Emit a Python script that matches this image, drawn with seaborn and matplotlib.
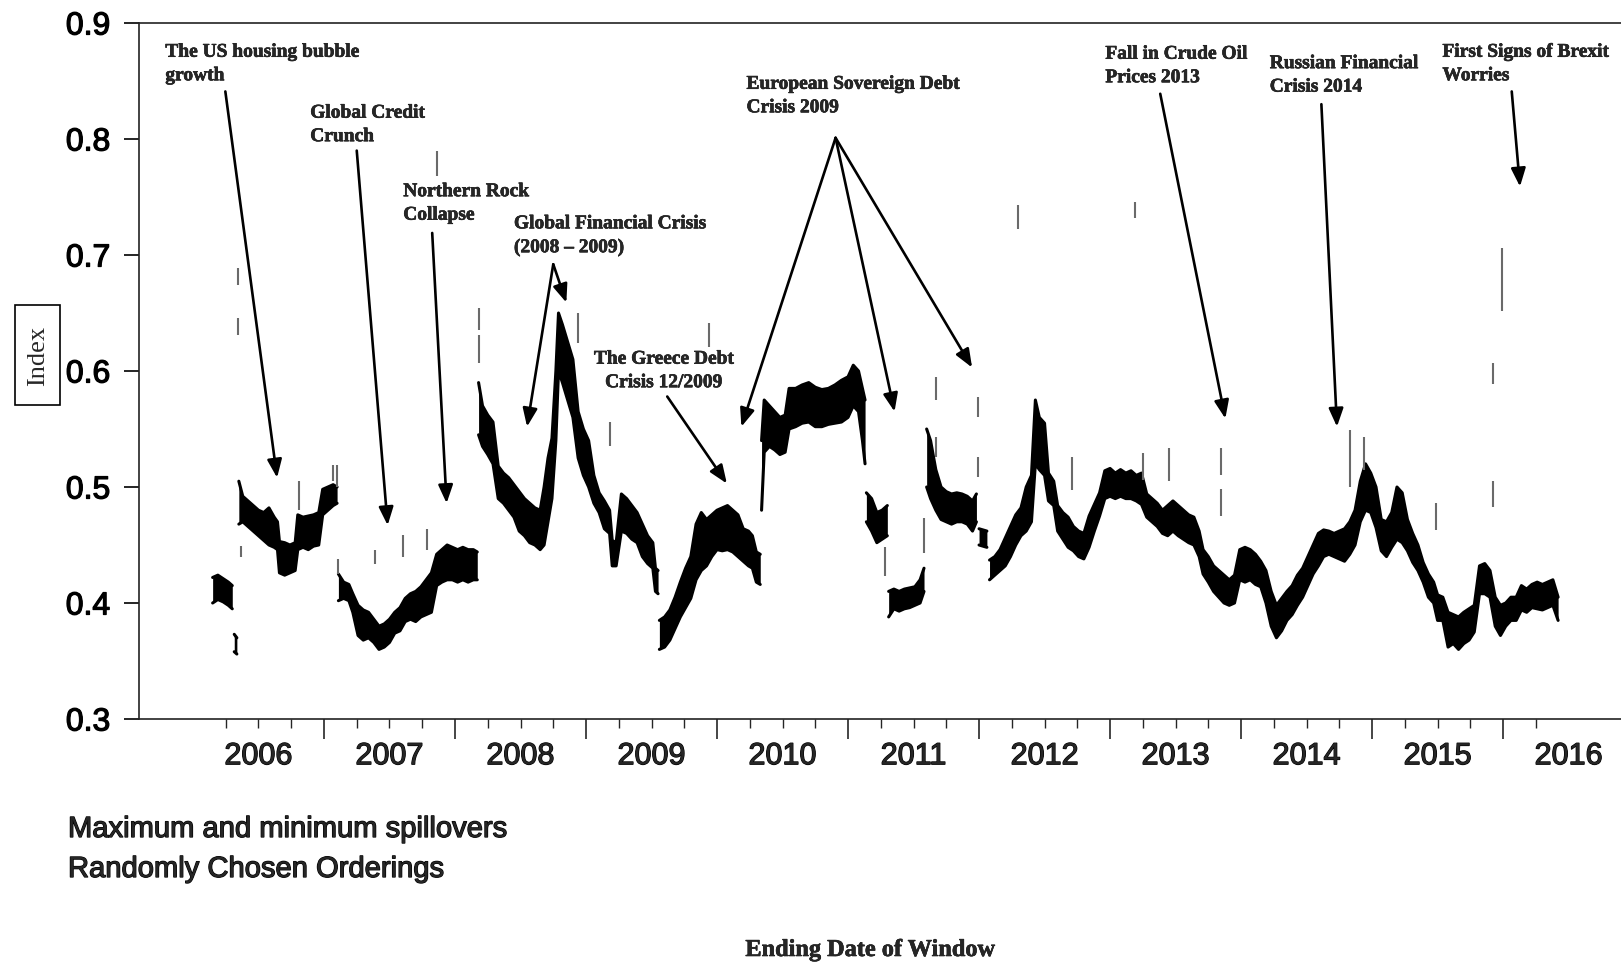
import numpy as np
import pandas as pd
import matplotlib
matplotlib.use("Agg")
import matplotlib.pyplot as plt
import matplotlib.patheffects as pe
import seaborn as sns
from matplotlib.patches import Rectangle
from matplotlib.ticker import FixedLocator, NullFormatter

nan = np.nan

# ---- data: min / max spillover band (NaN separates segments) ----
years = [
    2006.15, 2006.19, 2006.23, 2006.27, 2006.30, nan,
    2006.315, 2006.335, nan,
    2006.35, 2006.38, 2006.42, 2006.46, 2006.50, 2006.54, 2006.58, 2006.62, 2006.645, 2006.66,
    2006.70, 2006.74, 2006.78, 2006.80, 2006.84, 2006.88, 2006.92, 2006.96, 2006.99, 2007.03,
    2007.07, 2007.10, nan,
    2007.11, 2007.15, 2007.19, 2007.22, 2007.26, 2007.30, 2007.34, 2007.38, 2007.42, 2007.46,
    2007.50, 2007.54, 2007.58, 2007.62, 2007.66, 2007.70, 2007.74, 2007.78, 2007.82, 2007.86,
    2007.90, 2007.94, 2007.98, 2008.02, 2008.06, 2008.10, 2008.14, 2008.17, nan,
    2008.18, 2008.21, 2008.25, 2008.29, 2008.33, 2008.37, 2008.41, 2008.45, 2008.49, 2008.53,
    2008.57, 2008.61, 2008.65, 2008.68, 2008.71, 2008.74, 2008.77, 2008.79, 2008.82, 2008.86,
    2008.90, 2008.94, 2008.98, 2009.02, 2009.06, 2009.10, 2009.14, 2009.18, 2009.20, 2009.23,
    2009.27, 2009.31, 2009.35, 2009.39, 2009.43, 2009.47, 2009.51, 2009.53, 2009.55, nan,
    2009.56, 2009.60, 2009.64, 2009.68, 2009.72, 2009.76, 2009.80, 2009.84, 2009.88, 2009.92,
    2009.96, 2010.00, 2010.04, 2010.08, 2010.12, 2010.16, 2010.20, 2010.24, 2010.27, 2010.30,
    2010.33, nan,
    2010.34, 2010.36, 2010.40, 2010.44, 2010.48, 2010.52, 2010.55, 2010.60, 2010.65, 2010.70,
    2010.75, 2010.80, 2010.85, 2010.90, 2010.95, 2011.00, 2011.04, 2011.08, 2011.11, 2011.13, nan,
    2011.14, 2011.18, 2011.22, 2011.26, 2011.30, nan,
    2011.31, 2011.35, 2011.39, 2011.43, 2011.47, 2011.51, 2011.55, 2011.58, nan,
    2011.60, 2011.63, 2011.67, 2011.71, 2011.75, 2011.79, 2011.83, 2011.87, 2011.91, 2011.95,
    2011.98, nan,
    2012.00, 2012.06, nan,
    2012.08, 2012.12, 2012.16, 2012.20, 2012.24, 2012.28, 2012.32, 2012.36, 2012.40, 2012.43,
    2012.46, 2012.50, 2012.53, 2012.57, 2012.60, 2012.64, 2012.68, 2012.72, 2012.76, 2012.80,
    2012.84, 2012.88, 2012.92, 2012.96, 2013.00, 2013.04, 2013.08, 2013.12, 2013.16, 2013.20,
    2013.24, 2013.28, 2013.32, 2013.36, 2013.40, 2013.44, 2013.48, 2013.52, 2013.56, 2013.60,
    2013.64, 2013.68, 2013.71, 2013.75, 2013.79, 2013.83, 2013.87, 2013.91, 2013.95, 2013.99,
    2014.03, 2014.07, 2014.11, 2014.15, 2014.19, 2014.23, 2014.27, 2014.31, 2014.35, 2014.39,
    2014.43, 2014.47, 2014.51, 2014.55, 2014.59, 2014.63, 2014.67, 2014.71, 2014.75, 2014.79,
    2014.83, 2014.87, 2014.91, 2014.95, 2014.99, 2015.03, 2015.07, 2015.11, 2015.15, 2015.19,
    2015.23, 2015.27, 2015.31, 2015.35, 2015.39, 2015.43, 2015.47, 2015.50, 2015.54, 2015.58,
    2015.62, 2015.66, 2015.70, 2015.74, 2015.78, 2015.82, 2015.86, 2015.90, 2015.94, 2015.98,
    2016.02, 2016.06, 2016.10, 2016.14, 2016.18, 2016.22, 2016.26, 2016.30, 2016.34, 2016.38,
    2016.42,
]
low = [
    .400, .403, .401, .398, .395, nan,
    .358, .356, nan,
    .468, .470, .466, .462, .458, .454, .450, .448, .446, .426,
    .424, .426, .428, .446, .448, .446, .449, .450, .476, .480,
    .484, .486, nan,
    .402, .404, .402, .392, .372, .368, .370, .366, .360, .362,
    .366, .374, .376, .384, .386, .384, .388, .390, .392, .415,
    .418, .420, .420, .418, .420, .418, .420, .420, nan,
    .545, .535, .528, .520, .490, .486, .480, .474, .462, .458,
    .452, .450, .446, .450, .470, .490, .540, .600, .590, .575,
    .560, .525, .510, .500, .486, .478, .464, .460, .432, .432,
    .462, .460, .455, .452, .440, .434, .430, .410, .408, nan,
    .360, .362, .368, .378, .388, .396, .404, .420, .428, .432,
    .440, .446, .445, .446, .444, .440, .436, .432, .430, .418,
    .416, nan,
    .480, .530, .535, .532, .528, .530, .550, .552, .555, .556,
    .552, .552, .554, .555, .556, .560, .570, .565, .540, .520, nan,
    .470, .462, .452, .455, .458, nan,
    .388, .395, .393, .395, .396, .398, .400, .410, nan,
    .500, .490, .480, .472, .470, .468, .470, .470, .468, .462,
    .470, nan,
    .450, .448, nan,
    .420, .424, .428, .432, .440, .450, .458, .462, .470, .520,
    .515, .510, .488, .484, .462, .455, .448, .445, .440, .438,
    .448, .462, .475, .490, .492, .490, .492, .490, .490, .488,
    .485, .474, .470, .466, .460, .458, .462, .458, .455, .452,
    .450, .440, .425, .418, .410, .405, .400, .398, .400, .420,
    .418, .420, .416, .414, .400, .380, .370, .376, .385, .390,
    .398, .405, .415, .425, .432, .440, .442, .440, .438, .436,
    .442, .450, .470, .480, .478, .465, .445, .440, .448, .455,
    .452, .445, .435, .428, .418, .405, .400, .385, .385, .362,
    .365, .360, .365, .368, .375, .408, .408, .405, .380, .372,
    .380, .385, .385, .394, .392, .396, .395, .394, .396, .398,
    .385,
]
high = [
    .422, .424, .421, .418, .415, nan,
    .373, .370, nan,
    .505, .492, .488, .484, .480, .478, .482, .474, .470, .453,
    .452, .450, .452, .476, .474, .475, .476, .478, .498, .500,
    .502, .500, nan,
    .425, .418, .416, .408, .398, .394, .392, .386, .380, .382,
    .386, .392, .396, .404, .408, .410, .414, .420, .426, .442,
    .446, .450, .448, .446, .448, .446, .446, .444, nan,
    .590, .570, .562, .556, .518, .512, .508, .502, .496, .490,
    .486, .482, .480, .500, .525, .542, .600, .650, .640, .625,
    .610, .565, .550, .540, .510, .495, .488, .480, .454, .452,
    .494, .490, .484, .478, .468, .458, .452, .430, .428, nan,
    .385, .388, .394, .405, .418, .430, .440, .468, .478, .472,
    .476, .480, .482, .484, .480, .476, .464, .462, .458, .444,
    .442, nan,
    .540, .575, .570, .565, .560, .562, .585, .585, .588, .590,
    .586, .584, .585, .588, .592, .595, .605, .600, .585, .575, nan,
    .495, .490, .478, .480, .484, nan,
    .410, .412, .410, .412, .413, .414, .420, .430, nan,
    .550, .540, .515, .500, .496, .494, .495, .494, .492, .488,
    .494, nan,
    .464, .462, nan,
    .437, .440, .446, .456, .466, .476, .482, .500, .510, .575,
    .560, .555, .512, .505, .484, .478, .474, .466, .462, .460,
    .475, .485, .495, .514, .516, .512, .515, .512, .514, .510,
    .512, .494, .490, .486, .480, .484, .488, .484, .480, .476,
    .474, .462, .446, .440, .432, .428, .424, .420, .424, .446,
    .448, .446, .442, .436, .428, .410, .398, .404, .410, .415,
    .424, .430, .440, .450, .460, .463, .462, .460, .462, .464,
    .470, .480, .505, .520, .512, .500, .472, .470, .478, .500,
    .495, .472, .460, .450, .435, .425, .418, .407, .405, .392,
    .390, .388, .392, .395, .398, .432, .434, .428, .405, .398,
    .400, .405, .405, .415, .412, .416, .418, .416, .418, .420,
    .405,
]

# isolated grey spikes (outlying orderings)
spike_year = [2006.34, 2006.34, 2006.365, 2006.81, 2007.07, 2007.10, 2007.11, 2007.39, 2007.60,
              2007.79, 2007.86, 2008.18, 2008.18, 2008.94, 2009.18, 2009.94, 2011.28, 2011.58,
              2011.67, 2011.67, 2011.99, 2011.99, 2012.30, 2012.71, 2013.19, 2013.25, 2013.45,
              2013.85, 2013.85, 2014.83, 2014.94, 2015.49, 2015.92, 2015.92, 2015.99]
spike_low = [.674, .631, .440, .480, .505, .500, .425, .434, .440, .446, .768, .635, .607, .624,
             .535, .621, .423, .443, .575, .526, .560, .509, .722, .497, .732, .506, .505, .510,
             .475, .500, .515, .463, .589, .483, .652]
spike_high = [.689, .646, .449, .505, .519, .519, .438, .446, .459, .464, .790, .654, .631, .650,
              .556, .641, .448, .473, .595, .543, .578, .526, .743, .526, .746, .529, .534, .534,
              .498, .549, .543, .486, .607, .505, .706]

year_label_pos = [2006.5, 2007.5, 2008.5, 2009.5, 2010.5, 2011.5, 2012.5, 2013.5, 2014.5, 2015.5, 2016.5]
year_labels = ["2006", "2007", "2008", "2009", "2010", "2011", "2012", "2013", "2014", "2015", "2016"]
y_ticks = [0.3, 0.4, 0.5, 0.6, 0.7, 0.8, 0.9]
y_tick_labels = ["0.3", "0.4", "0.5", "0.6", "0.7", "0.8", "0.9"]

# event annotations: text, text anchor (year, value), alignment
event_texts = ["The US housing bubble\ngrowth", "Global Credit\nCrunch", "Northern Rock\nCollapse",
               "Global Financial Crisis\n(2008 \u2013 2009)", "The Greece Debt\nCrisis 12/2009",
               "European Sovereign Debt\nCrisis 2009", "Fall in Crude Oil\nPrices 2013",
               "Russian Financial\nCrisis 2014", "First Signs of Brexit\nWorries"]
event_text_x = [2005.789, 2006.895, 2007.605, 2008.450, 2009.595, 2010.225, 2012.964, 2014.219, 2015.537]
event_text_y = [0.8821, 0.8296, 0.7619, 0.7342, 0.6175, 0.8545, 0.8804, 0.8723, 0.8821]
event_text_ha = ["left", "left", "left", "left", "center", "left", "left", "left", "left"]
arrow_tail_x = [2006.247, 2007.25, 2007.826, 2008.75, 2008.75, 2009.62, 2010.905, 2010.905, 2010.905,
                2013.383, 2014.613, 2016.066]
arrow_tail_y = [.841, .790, .719, .692, .692, .578, .801, .801, .801, .839, .830, .841]
arrow_tip_x = [2006.642, 2007.486, 2007.936, 2008.55, 2008.85, 2010.075, 2010.186, 2011.355, 2011.947,
               2013.88, 2014.732, 2016.129]
arrow_tip_y = [.508, .467, .486, .552, .659, .503, .552, .565, .603, .559, .552, .759]

assert len(years) == len(low) == len(high)

# ---- style ----
sns.set_style("ticks")
sans = ["Liberation Sans", "DejaVu Sans"]
serif = ["Liberation Serif", "DejaVu Serif"]
plt.rcParams["font.family"] = sans

heavy = [pe.withStroke(linewidth=0.9, foreground="black")]
semi = [pe.withStroke(linewidth=0.4, foreground="black")]

W, H = 1621, 965
fig = plt.figure(figsize=(W / 100, H / 100), dpi=100)
ax = fig.add_axes([139 / W, 1 - 719 / H, 1 - 139 / W, (719 - 23) / H])

df = pd.DataFrame({"year": years, "low": low, "high": high})
df["seg"] = df["year"].isna().cumsum()
d = df.dropna()
for _, g in d.groupby("seg"):
    ax.fill_between(g["year"], g["low"], g["high"], color="black", lw=0.0)

long_df = d.melt(id_vars=["year", "seg"], value_vars=["low", "high"],
                 var_name="bound", value_name="value")
long_df["unit"] = long_df["seg"].astype(str) + "_" + long_df["bound"]
sns.lineplot(data=long_df, x="year", y="value", units="unit", estimator=None,
             color="black", lw=2.2, ax=ax, legend=False)

ax.vlines(spike_year, spike_low, spike_high, color="#6a6a6a", lw=1.5)

ax.set_xlim(2005.588, 2016.90)
ax.set_ylim(0.3, 0.9)
ax.set_xlabel("")
ax.set_ylabel("")

ax.set_yticks(y_ticks)
ax.set_yticklabels(y_tick_labels)
ax.tick_params(axis="y", length=10.8, width=1.2, pad=10, labelsize=23, direction="out", colors="black")
for lbl in ax.get_yticklabels():
    lbl.set_path_effects(heavy)

ax.xaxis.set_major_locator(FixedLocator(list(range(2007, 2017))))
ax.xaxis.set_major_formatter(NullFormatter())
minor = [y + q for y in range(2006, 2017) for q in (0.25, 0.5, 0.75) if y + q <= 2016.26]
ax.xaxis.set_minor_locator(FixedLocator(minor))
ax.xaxis.set_minor_formatter(NullFormatter())
ax.tick_params(axis="x", which="major", length=14.4, width=1.2, direction="out")
ax.tick_params(axis="x", which="minor", length=6.5, width=1.0, direction="out")

sec = ax.secondary_xaxis("bottom")
sec.set_xticks(year_label_pos)
sec.set_xticklabels(year_labels)
sec.tick_params(length=0, pad=16, labelsize=22)
sec.spines["bottom"].set_visible(False)
for lbl in sec.get_xticklabels():
    lbl.set_path_effects(heavy)

for s in ["left", "bottom", "top"]:
    ax.spines[s].set_color("#222222")
    ax.spines[s].set_linewidth(1.2)
ax.spines["right"].set_visible(False)

# annotations
for t, x, y, ha in zip(event_texts, event_text_x, event_text_y, event_text_ha):
    ax.text(x, y, t, ha=ha, va="top", multialignment=ha, fontsize=14, fontweight="bold",
            family=serif, linespacing=1.5, path_effects=semi)
for tx, ty, hx, hy in zip(arrow_tail_x, arrow_tail_y, arrow_tip_x, arrow_tip_y):
    ax.annotate("", xy=(hx, hy), xytext=(tx, ty),
                arrowprops=dict(arrowstyle="-|>,head_length=0.55,head_width=0.22",
                                mutation_scale=20, lw=1.9, color="black",
                                shrinkA=0, shrinkB=0))

# Index label in a box
fig.patches.append(Rectangle((15 / W, 1 - 405 / H), 45 / W, 100 / H, transform=fig.transFigure,
                             fill=False, edgecolor="black", lw=1.2))
fig.text(38 / W, 1 - 356 / H, "Index", rotation=90, ha="center", va="center",
         fontsize=19, family=serif)

fig.text(68 / W, 1 - 837 / H, "Maximum and minimum spillovers", ha="left", va="baseline",
         fontsize=21, family=sans, path_effects=heavy)
fig.text(68 / W, 1 - 877 / H, "Randomly Chosen Orderings", ha="left", va="baseline",
         fontsize=21, family=sans, path_effects=heavy)
fig.text(870 / W, 1 - 956 / H, "Ending Date of Window", ha="center", va="baseline",
         fontsize=17.5, fontweight="bold", family=serif, path_effects=semi)

fig.savefig("out.png", dpi=100, facecolor="white")
